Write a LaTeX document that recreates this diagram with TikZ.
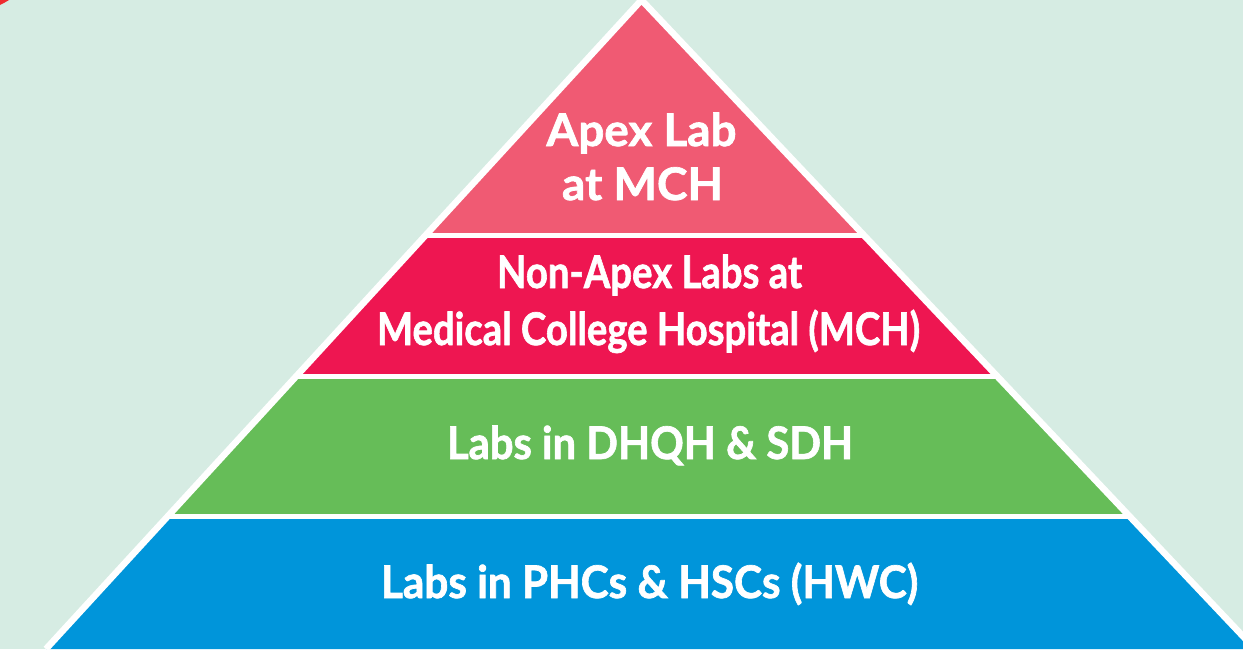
\documentclass[tikz,border=0pt]{standalone}
\usepackage{fontspec}
\usepackage{graphicx}
\setmainfont{Lato}[BoldFeatures={FakeBold=1.5}]
\definecolor{bgmint}{HTML}{D6ECE3}
\definecolor{tierpink}{HTML}{F05A73}
\definecolor{tierred}{HTML}{EE1651}
\definecolor{tiergreen}{HTML}{66BD58}
\definecolor{tierblue}{HTML}{0095DA}
\definecolor{markred}{HTML}{EE2B2F}
\newcommand{\fitw}[2]{\resizebox{#1pt}{\height}{#2}}
\tikzset{
  tiertext/.style={anchor=base, inner sep=0pt, text=white,
    font=\fontsize{45pt}{54pt}\selectfont\bfseries},
  sepline/.style={draw=white, line width=5pt},
  edgeline/.style={draw=white, line width=6.5pt, line join=miter}
}
\begin{document}
\begin{tikzpicture}[x=1pt,y=-1pt]
\useasboundingbox (0,0) rectangle (1243,649);
\fill[bgmint] (0,0) rectangle (1243,649);
% small red mark in the corner
\fill[markred] (0,0) -- (9,0) .. controls (6,2) and (3,3.5) .. (0,5) -- cycle;
% pyramid corners
\coordinate (top) at (641.5,0);
\coordinate (bl) at (46,649);
\coordinate (br) at (1255,649);
\begin{scope}
  \clip (top) -- (br) -- (bl) -- cycle;
  \fill[tierpink] (0,-10) rectangle (1300,235.5);
  \fill[tierred] (0,235.5) rectangle (1300,376);
  \fill[tiergreen] (0,376) rectangle (1300,516);
  \fill[tierblue] (0,516) rectangle (1300,660);
  \draw[sepline] (0,235.5) -- (1300,235.5);
  \draw[sepline] (0,376) -- (1300,376);
  \draw[sepline] (0,516) -- (1300,516);
\end{scope}
\draw[edgeline] (bl) -- (top) -- (br);
% labels
\node[tiertext] (apexA) at (641.5,146) {\fitw{190}{Apex Lab}};
\node[tiertext] (apexB) at (642.5,200) {\fitw{161}{at MCH}};
\node[tiertext] (nonA) at (649.5,288) {\fitw{305}{Non-Apex Labs at}};
\node[tiertext] (nonB) at (648.5,345) {\fitw{543}{Medical College Hospital (MCH)}};
\node[tiertext] (dhqh) at (650,459) {\fitw{406}{Labs in DHQH \& SDH}};
\node[tiertext] (phc) at (649.5,598) {\fitw{537}{Labs in PHCs \& HSCs (HWC)}};
\end{tikzpicture}
\end{document}
